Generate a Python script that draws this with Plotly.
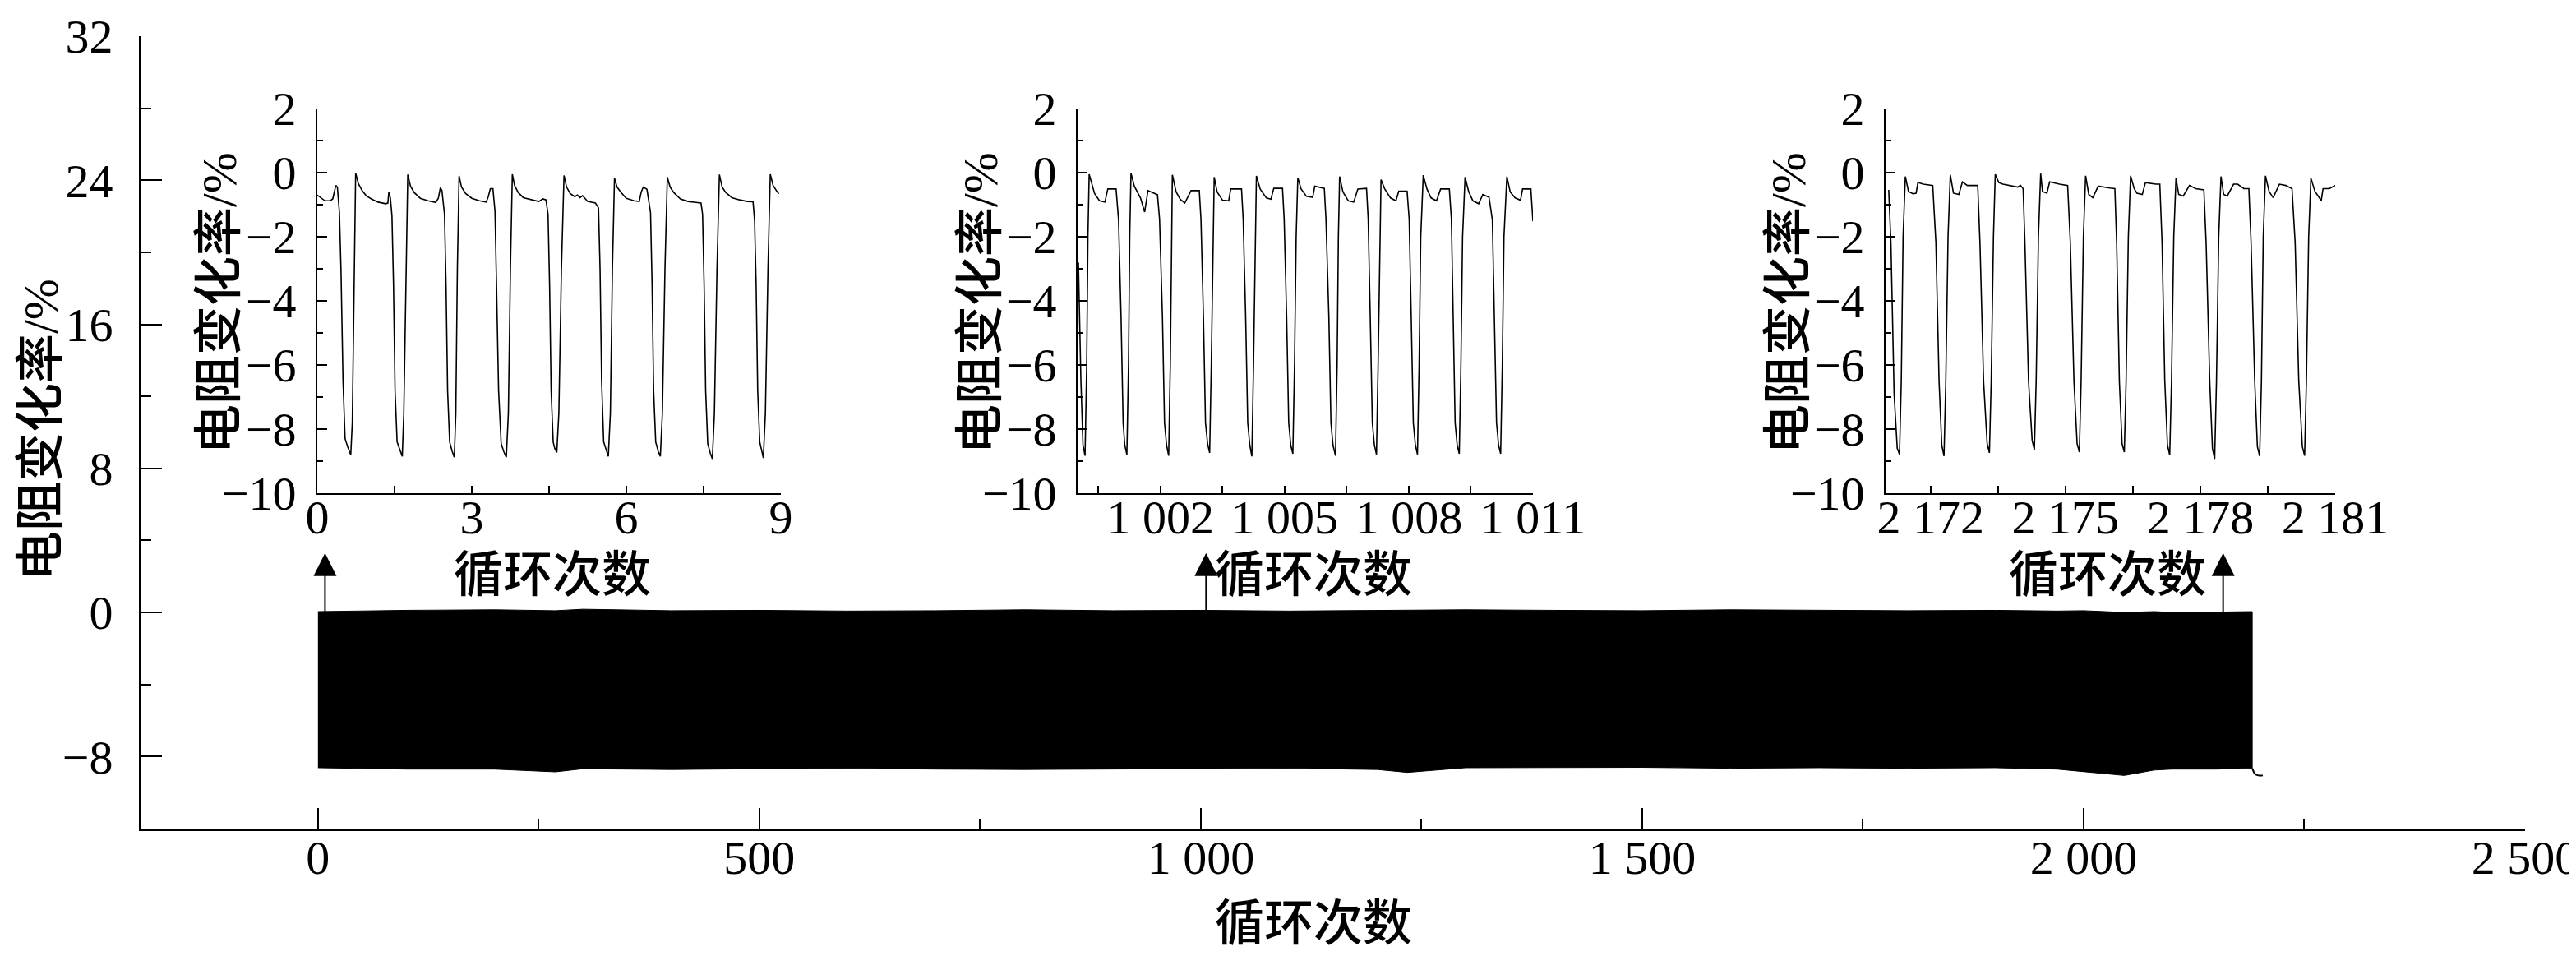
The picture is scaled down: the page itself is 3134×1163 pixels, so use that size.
import plotly.graph_objects as go

# ---- main panel: envelope of the dense cycling band ----
band_cycles = [0, 100, 200, 269, 300, 400, 500, 600, 700, 800, 900, 1000, 1100,
               1200, 1234, 1300, 1400, 1500, 1600, 1700, 1800, 1900, 1970, 2000,
               2046, 2080, 2100, 2150, 2191]
band_top = [0.05, 0.12, 0.15, 0.10, 0.18, 0.10, 0.12, 0.08, 0.10, 0.15, 0.10, 0.12,
            0.08, 0.12, 0.10, 0.15, 0.12, 0.10, 0.15, 0.12, 0.10, 0.12, 0.08, 0.10,
            0.00, 0.05, 0.00, 0.02, 0.05]
band_bottom = [-8.62, -8.70, -8.70, -8.85, -8.68, -8.72, -8.68, -8.65, -8.70, -8.72,
               -8.70, -8.68, -8.65, -8.72, -8.88, -8.62, -8.60, -8.60, -8.65, -8.62,
               -8.65, -8.62, -8.70, -8.85, -9.05, -8.75, -8.70, -8.70, -8.65]
tail_cycles = [2191, 2194, 2198, 2203]
tail_values = [-8.65, -8.95, -9.05, -9.05]

arrow_cycles = [8, 1006, 2158]
arrow_base = 0.05
arrow_tip = 3.3

# ---- inset 1: cycles 0-9 ----
inset1_x = [0.00, 0.08, 0.15, 0.25, 0.30, 0.36, 0.39, 0.43, 0.46, 0.50, 0.54, 0.59, 0.65, 0.68, 0.71, 0.745,
            0.80, 0.87, 0.95, 1.05, 1.18, 1.33, 1.37, 1.39, 1.42, 1.45, 1.48, 1.51, 1.55, 1.60, 1.65, 1.68, 1.72, 1.757,
            1.81, 1.88, 2.00, 2.15, 2.30, 2.35, 2.39, 2.42, 2.47, 2.50, 2.53, 2.57, 2.62, 2.66, 2.69, 2.72, 2.753,
            2.80, 2.88, 3.00, 3.15, 3.28, 3.32, 3.36, 3.41, 3.45, 3.48, 3.52, 3.57, 3.62, 3.67, 3.71, 3.75, 3.787,
            3.83, 3.90, 4.00, 4.15, 4.30, 4.38, 4.44, 4.48, 4.51, 4.54, 4.58, 4.61, 4.65, 4.69, 4.74, 4.79,
            4.84, 4.91, 5.00, 5.05, 5.10, 5.15, 5.25, 5.40, 5.46, 5.49, 5.52, 5.56, 5.60, 5.65, 5.69, 5.73, 5.77,
            5.82, 5.90, 6.00, 6.15, 6.25, 6.29, 6.33, 6.40, 6.47, 6.50, 6.53, 6.57, 6.62, 6.66, 6.70, 6.75, 6.796,
            6.85, 6.92, 7.05, 7.20, 7.35, 7.45, 7.48, 7.51, 7.54, 7.58, 7.63, 7.67, 7.71, 7.76, 7.807,
            7.86, 7.93, 8.05, 8.20, 8.35, 8.46, 8.49, 8.52, 8.55, 8.59, 8.63, 8.66, 8.70, 8.75, 8.795,
            8.85, 8.92, 8.96]
inset1_y = [-0.70, -0.80, -0.88, -0.88, -0.82, -0.40, -0.45, -1.25, -3.0, -6.5, -8.3, -8.55, -8.8, -7.8, -3.5, -0.02,
            -0.35, -0.56, -0.72, -0.82, -0.92, -0.97, -0.95, -0.60, -0.80, -1.35, -3.5, -6.8, -8.4, -8.65, -8.85, -7.5, -3.0, -0.06,
            -0.42, -0.62, -0.80, -0.88, -0.93, -0.80, -0.47, -0.55, -1.30, -3.5, -6.8, -8.4, -8.7, -8.88, -7.5, -3.0, -0.10,
            -0.45, -0.65, -0.80, -0.88, -0.92, -0.75, -0.50, -0.50, -1.2, -3.5, -6.8, -8.45, -8.7, -8.88, -7.5, -3.0, -0.05,
            -0.40, -0.62, -0.78, -0.85, -0.90, -0.82, -0.85, -1.3, -3.5, -6.8, -8.4, -8.6, -8.73, -7.5, -3.0, -0.09,
            -0.45, -0.65, -0.75, -0.70, -0.78, -0.72, -0.90, -0.95, -1.1, -3.0, -6.5, -8.4, -8.6, -8.85, -7.5, -3.0, -0.17,
            -0.45, -0.62, -0.80, -0.88, -0.90, -0.60, -0.45, -0.52, -1.25, -3.5, -6.8, -8.4, -8.7, -8.85, -7.5, -3.0, -0.14,
            -0.45, -0.62, -0.82, -0.90, -0.93, -0.95, -1.3, -3.5, -6.8, -8.45, -8.75, -8.93, -7.5, -3.0, -0.06,
            -0.45, -0.62, -0.78, -0.85, -0.90, -0.91, -1.5, -3.5, -6.8, -8.4, -8.7, -8.9, -7.5, -3.0, -0.05,
            -0.40, -0.58, -0.66]

# ---- inset 2: cycles 1000-1011 ----
inset2_x = [1000.02, 1000.08, 1000.13, 1000.18, 1000.22, 1000.25, 1000.28,
            1000.41, 1000.53, 1000.66, 1000.73, 1000.93, 1000.99, 1001.05, 1001.10, 1001.14, 1001.19, 1001.23, 1001.26, 1001.29,
            1001.37, 1001.52, 1001.62, 1001.70, 1001.93, 1001.98, 1002.05, 1002.10, 1002.15, 1002.20, 1002.24, 1002.27, 1002.29,
            1002.38, 1002.48, 1002.59, 1002.74, 1002.94, 1002.98, 1003.04, 1003.09, 1003.14, 1003.19, 1003.23, 1003.27, 1003.30,
            1003.37, 1003.50, 1003.65, 1003.70, 1003.96, 1004.00, 1004.06, 1004.11, 1004.16, 1004.21, 1004.25, 1004.29, 1004.32,
            1004.41, 1004.56, 1004.67, 1004.74, 1004.95, 1004.99, 1005.05, 1005.10, 1005.15, 1005.20, 1005.24, 1005.28, 1005.32,
            1005.40, 1005.53, 1005.68, 1005.73, 1005.96, 1006.00, 1006.07, 1006.12, 1006.17, 1006.23, 1006.27, 1006.30, 1006.33,
            1006.41, 1006.54, 1006.67, 1006.77, 1006.98, 1007.02, 1007.07, 1007.12, 1007.17, 1007.22, 1007.26, 1007.30, 1007.33,
            1007.42, 1007.56, 1007.69, 1007.76, 1007.96, 1008.01, 1008.06, 1008.11, 1008.16, 1008.21, 1008.25, 1008.29, 1008.35,
            1008.44, 1008.54, 1008.67, 1008.77, 1008.98, 1009.03, 1009.08, 1009.12, 1009.17, 1009.22, 1009.26, 1009.30, 1009.36,
            1009.45, 1009.55, 1009.69, 1009.79, 1009.94, 1010.02, 1010.07, 1010.12, 1010.17, 1010.22, 1010.26, 1010.30, 1010.37,
            1010.45, 1010.57, 1010.70, 1010.75, 1010.95, 1011.00]
inset2_y = [-2.8, -6.5, -8.5, -8.83, -6.0, -2.0, -0.05,
            -0.65, -0.88, -0.92, -0.51, -0.51, -1.48, -4.5, -7.8, -8.5, -8.80, -6.0, -2.0, -0.02,
            -0.42, -0.79, -1.23, -0.56, -0.69, -1.45, -4.5, -7.8, -8.5, -8.83, -6.0, -2.0, -0.07,
            -0.60, -0.83, -0.95, -0.56, -0.56, -1.45, -4.5, -7.8, -8.45, -8.74, -6.0, -2.0, -0.14,
            -0.60, -0.86, -0.88, -0.51, -0.51, -1.45, -4.5, -7.8, -8.5, -8.85, -6.0, -2.0, -0.10,
            -0.51, -0.79, -0.83, -0.49, -0.49, -1.45, -4.5, -7.8, -8.5, -8.77, -6.0, -2.0, -0.16,
            -0.51, -0.74, -0.77, -0.42, -0.49, -1.45, -4.5, -7.8, -8.5, -8.83, -6.0, -2.0, -0.12,
            -0.60, -0.88, -0.92, -0.51, -0.49, -1.45, -4.5, -7.8, -8.5, -8.79, -6.0, -2.0, -0.22,
            -0.51, -0.79, -0.88, -0.58, -0.58, -1.45, -4.5, -7.8, -8.5, -8.79, -6.0, -2.0, -0.08,
            -0.51, -0.79, -0.88, -0.51, -0.51, -1.45, -4.5, -7.8, -8.5, -8.77, -6.0, -2.0, -0.14,
            -0.60, -0.88, -0.97, -0.68, -0.77, -1.48, -4.5, -7.8, -8.5, -8.77, -6.0, -2.0, -0.12,
            -0.60, -0.79, -0.86, -0.51, -0.51, -1.52]

# ---- inset 3: cycles 2171-2181 ----
inset3_x = [2171.07, 2171.12, 2171.19, 2171.26, 2171.31, 2171.35, 2171.39, 2171.44,
            2171.51, 2171.61, 2171.68, 2171.72, 2171.84, 2172.05, 2172.12, 2172.19, 2172.25, 2172.30, 2172.34, 2172.39, 2172.44,
            2172.51, 2172.63, 2172.71, 2172.82, 2173.05, 2173.10, 2173.18, 2173.26, 2173.31, 2173.35, 2173.40, 2173.44,
            2173.52, 2173.61, 2173.75, 2173.94, 2174.00, 2174.06, 2174.10, 2174.18, 2174.26, 2174.31, 2174.35, 2174.40, 2174.45,
            2174.49, 2174.59, 2174.65, 2174.87, 2175.05, 2175.11, 2175.19, 2175.26, 2175.31, 2175.35, 2175.40, 2175.45,
            2175.52, 2175.61, 2175.73, 2175.99, 2176.10, 2176.14, 2176.20, 2176.26, 2176.31, 2176.35, 2176.40, 2176.45,
            2176.53, 2176.59, 2176.71, 2176.78, 2177.01, 2177.10, 2177.15, 2177.21, 2177.27, 2177.32, 2177.36, 2177.41, 2177.46,
            2177.52, 2177.62, 2177.76, 2177.90, 2178.08, 2178.13, 2178.21, 2178.27, 2178.32, 2178.36, 2178.41, 2178.46,
            2178.52, 2178.60, 2178.74, 2178.83, 2178.97, 2179.08, 2179.13, 2179.21, 2179.27, 2179.32, 2179.36, 2179.40, 2179.45,
            2179.53, 2179.62, 2179.76, 2179.90, 2180.04, 2180.11, 2180.19, 2180.27, 2180.32, 2180.36, 2180.41, 2180.46,
            2180.55, 2180.69, 2180.73, 2180.87, 2181.00]
inset3_y = [-0.54, -2.2, -6.9, -8.6, -8.79, -6.5, -2.0, -0.12,
            -0.59, -0.66, -0.64, -0.31, -0.36, -0.40, -2.2, -6.5, -8.5, -8.84, -6.5, -2.0, -0.07,
            -0.64, -0.68, -0.29, -0.40, -0.40, -2.2, -6.5, -8.45, -8.74, -6.5, -2.0, -0.05,
            -0.31, -0.36, -0.40, -0.45, -0.40, -0.50, -2.2, -6.5, -8.35, -8.64, -6.5, -2.0, -0.03,
            -0.59, -0.64, -0.29, -0.36, -0.40, -2.2, -6.5, -8.45, -8.72, -6.5, -2.0, -0.10,
            -0.68, -0.78, -0.42, -0.48, -0.50, -2.2, -6.5, -8.45, -8.72, -6.5, -2.0, -0.10,
            -0.50, -0.64, -0.68, -0.31, -0.36, -0.36, -2.2, -6.5, -8.5, -8.81, -6.5, -2.0, -0.17,
            -0.68, -0.73, -0.40, -0.50, -0.54, -2.2, -6.5, -8.6, -8.93, -6.5, -2.0, -0.12,
            -0.68, -0.73, -0.36, -0.36, -0.50, -0.50, -2.2, -6.5, -8.55, -8.84, -6.5, -2.0, -0.10,
            -0.59, -0.78, -0.36, -0.40, -0.50, -2.2, -6.5, -8.55, -8.83, -6.5, -2.0, -0.17,
            -0.59, -0.87, -0.50, -0.50, -0.40]

# tick labels
main_x_ticks = [0, 500, 1000, 1500, 2000, 2500]
main_x_labels = ["0", "500", "1 000", "1 500", "2 000", "2 500"]
main_x_minor = [250, 750, 1250, 1750, 2250]
main_y_ticks = [-8, 0, 8, 16, 24, 32]
main_y_labels = ["\u22128", "0", "8", "16", "24", "32"]
main_y_minor = [-4, 4, 12, 20, 28]

inset_y_ticks = [2, 0, -2, -4, -6, -8, -10]
inset_y_labels = ["2", "0", "\u22122", "\u22124", "\u22126", "\u22128", "\u221210"]
inset_y_minor = [1, -1, -3, -5, -7, -9]

inset1_ticks = [0, 1.5, 3, 4.5, 6, 7.5, 9]
inset1_labels = ["0", "", "3", "", "6", "", "9"]
inset2_ticks = [1000.5, 1002, 1003.5, 1005, 1006.5, 1008, 1009.5, 1011]
inset2_labels = ["", "1 002", "", "1 005", "", "1 008", "", "1 011"]
inset3_ticks = [2172, 2173.5, 2175, 2176.5, 2178, 2179.5, 2181]
inset3_labels = ["2 172", "", "2 175", "", "2 178", "", "2 181"]

y_title = "电阻变化率/%"
x_title = "循环次数"

FONT = "Liberation Serif, Noto Sans CJK SC"
WIDTH, HEIGHT = 3134, 1163
ML, MR, MT, MB = 164, 70, 36, 163
PW, PH = WIDTH - ML - MR, HEIGHT - MT - MB


def px_x(px):
    return (px - ML) / PW


def px_y(py):
    return (HEIGHT - MB - py) / PH


fig = go.Figure()

# main band
fig.add_trace(go.Scatter(
    x=band_cycles + band_cycles[::-1],
    y=band_top + band_bottom[::-1],
    mode="lines", fill="toself", fillcolor="black",
    line=dict(color="black", width=1), hoverinfo="skip",
))
fig.add_trace(go.Scatter(
    x=tail_cycles, y=tail_values, mode="lines",
    line=dict(color="black", width=2, shape="spline"),
))

# arrows
shaft_x, shaft_y = [], []
for c in arrow_cycles:
    shaft_x += [c, c, None]
    shaft_y += [arrow_base, arrow_tip - 0.8, None]
fig.add_trace(go.Scatter(x=shaft_x, y=shaft_y, mode="lines",
                         line=dict(color="black", width=2)))
fig.add_trace(go.Scatter(
    x=arrow_cycles, y=[arrow_tip] * len(arrow_cycles), mode="markers",
    marker=dict(symbol="arrow-up", size=28, color="black", line=dict(width=0)),
))

# insets
insets = [
    (inset1_x, inset1_y, [0, 9], inset1_ticks, inset1_labels, 378, 942),
    (inset2_x, inset2_y, [1000, 1011], inset2_ticks, inset2_labels, 1303, 1857),
    (inset3_x, inset3_y, [2171, 2181], inset3_ticks, inset3_labels, 2286, 2833),
]
inset_top, inset_bottom = 124, 592

axis_font = dict(family=FONT, size=58, color="black")
common = dict(showgrid=False, zeroline=False, showline=True, linecolor="black",
              ticks="inside", tickcolor="black", tickfont=axis_font, automargin=False)

layout_axes = {}
for i, (xs, ys, xr, tv, tt, left, right) in enumerate(insets, start=2):
    fig.add_trace(go.Scatter(x=xs, y=ys, mode="lines", xaxis=f"x{i}", yaxis=f"y{i}",
                             line=dict(color="black", width=1.6)))
    layout_axes[f"xaxis{i}"] = dict(
        common, domain=[px_x(left), px_x(right)], anchor=f"y{i}", range=xr,
        tickvals=tv, ticktext=tt, ticklen=9, tickwidth=1.5, linewidth=1.6,
        ticklabelstandoff=-22,
    )
    layout_axes[f"yaxis{i}"] = dict(
        common, domain=[px_y(inset_bottom), px_y(inset_top)], anchor=f"x{i}",
        range=[-10, 2], tickvals=inset_y_ticks, ticktext=inset_y_labels,
        ticklen=12, tickwidth=1.5, linewidth=1.6, ticklabelstandoff=12,
        minor=dict(tickvals=inset_y_minor, ticks="inside", ticklen=7,
                   tickwidth=1.5, tickcolor="black"),
    )

fig.update_layout(
    width=WIDTH, height=HEIGHT,
    margin=dict(l=ML, r=MR, t=MT, b=MB),
    paper_bgcolor="white", plot_bgcolor="rgba(0,0,0,0)",
    showlegend=False,
    font=dict(family=FONT, color="black"),
    xaxis=dict(common, range=[-200, 2500], tickvals=main_x_ticks, ticktext=main_x_labels,
               ticklen=25, tickwidth=2, linewidth=3, ticklabelstandoff=-18,
               minor=dict(tickvals=main_x_minor, ticks="inside", ticklen=12,
                          tickwidth=2, tickcolor="black")),
    yaxis=dict(common, range=[-12, 32], tickvals=main_y_ticks, ticktext=main_y_labels,
               ticklen=25, tickwidth=2, linewidth=3, ticklabelstandoff=20,
               minor=dict(tickvals=main_y_minor, ticks="inside", ticklen=12,
                          tickwidth=2, tickcolor="black")),
    **layout_axes,
)

title_font = dict(family=FONT, size=60, color="black", weight=500)
ann = [
    dict(text=x_title, x=px_x(1590), y=px_y(1116)),
    dict(text=y_title, x=px_x(42), y=px_y(515), textangle=-90),
]
for cx in [259, 1185, 2168]:
    ann.append(dict(text=y_title, x=px_x(cx), y=px_y(361), textangle=-90))
for cx in [664, 1590, 2556]:
    ann.append(dict(text=x_title, x=px_x(cx), y=px_y(692)))
for a in ann:
    fig.add_annotation(xref="paper", yref="paper", showarrow=False,
                       xanchor="center", yanchor="middle", font=title_font, **a)

fig.write_html("out.html")
